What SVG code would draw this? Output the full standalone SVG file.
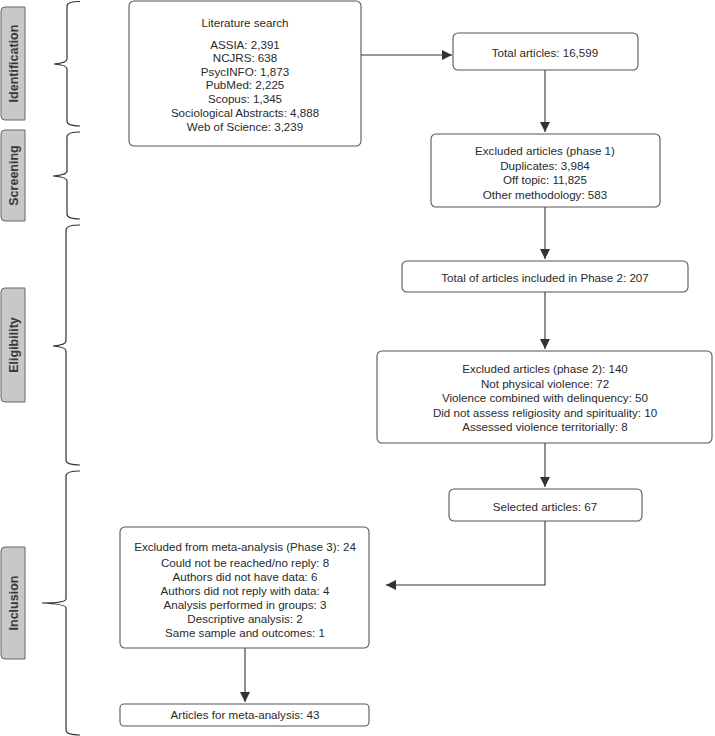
<svg xmlns="http://www.w3.org/2000/svg" width="715" height="736" viewBox="0 0 715 736">
<defs>
<marker id="ah" viewBox="0 0 10 10" refX="10" refY="5" markerWidth="10" markerHeight="10" markerUnits="userSpaceOnUse" orient="auto">
<path d="M0,0 L10,5 L0,10 z" fill="#333"/>
</marker>
<style>
.box{fill:#fff;stroke:#555;stroke-width:1.1}
.tab{fill:#c8c8c8;stroke:#666;stroke-width:1}
.t{font-family:"Liberation Sans",Arial,sans-serif;font-size:11.6px;fill:#2a2a2a;text-anchor:middle}
.tt{font-family:"Liberation Sans",Arial,sans-serif;font-size:12.5px;font-weight:bold;fill:#3a3a3a;text-anchor:middle}
.br{fill:none;stroke:#333;stroke-width:1.2}
.c{fill:none;stroke:#333;stroke-width:1.1}
</style>
</defs>
<rect width="715" height="736" fill="#fff"/>
<g id="stages">
<g id="tab-identification"><path class="tab" d="M25,7 L5,7 Q1,7 1,11 L1,116 Q1,120 5,120 L25,120 Z"/><text class="tt" transform="translate(17.5,63.5) rotate(-90)">Identification</text></g>
<g id="tab-screening"><path class="tab" d="M25,130 L5,130 Q1,130 1,134 L1,217 Q1,221 5,221 L25,221 Z"/><text class="tt" transform="translate(17.5,175.5) rotate(-90)">Screening</text></g>
<g id="tab-eligibility"><path class="tab" d="M25,288 L5,288 Q1,288 1,292 L1,398 Q1,402 5,402 L25,402 Z"/><text class="tt" transform="translate(17.5,345) rotate(-90)">Eligibility</text></g>
<g id="tab-inclusion"><path class="tab" d="M25,547 L5,547 Q1,547 1,551 L1,655 Q1,659 5,659 L25,659 Z"/><text class="tt" transform="translate(17.5,603) rotate(-90)">Inclusion</text></g>
</g>
<g id="braces">
<path class="br" d="M80,1.5 Q67,1.5 67,6 L67,59 Q67,63 54,64 Q67,65 67,69 L67,121 Q67,126 80,126"/>
<path class="br" d="M80,132 Q67,132 67,137 L67,171 Q67,175 53,176 Q67,177 67,181 L67,214 Q67,219 80,219"/>
<path class="br" d="M80,225 Q66,225 66,230 L66,341 Q66,345 53,346 Q66,347 66,351 L66,460 Q66,465 80,465"/>
<path class="br" d="M80,471 Q66,471 66,476 L66,599 Q66,603 42,603 Q66,604 66,608 L66,730 Q66,735 80,735"/>
</g>
<g id="connectors">
<path class="c" d="M361,55 L452,55" marker-end="url(#ah)"/>
<path class="c" d="M545,70 L545,132" marker-end="url(#ah)"/>
<path class="c" d="M545,207 L545,259" marker-end="url(#ah)"/>
<path class="c" d="M545,292 L545,349" marker-end="url(#ah)"/>
<path class="c" d="M545,443 L545,487" marker-end="url(#ah)"/>
<path class="c" d="M545,521 L545,585 L386,585" marker-end="url(#ah)"/>
<path class="c" d="M245,648 L245,702" marker-end="url(#ah)"/>
</g>
<g id="n-literature">
<rect class="box" x="129" y="1" width="232" height="145" rx="5"/>
<text class="t" x="245" y="27">Literature search</text>
<text class="t" x="245" y="49">ASSIA: 2,391</text>
<text class="t" x="245" y="62">NCJRS: 638</text>
<text class="t" x="245" y="76">PsycINFO: 1,873</text>
<text class="t" x="245" y="89">PubMed: 2,225</text>
<text class="t" x="245" y="103">Scopus: 1,345</text>
<text class="t" x="245" y="117">Sociological Abstracts: 4,888</text>
<text class="t" x="245" y="131">Web of Science: 3,239</text>
</g>
<g id="n-total">
<rect class="box" x="453" y="33" width="185" height="37" rx="5"/>
<text class="t" x="545" y="57">Total articles: 16,599</text>
</g>
<g id="n-excl1">
<rect class="box" x="431" y="134" width="229" height="73" rx="5"/>
<text class="t" x="545" y="155">Excluded articles (phase 1)</text>
<text class="t" x="545" y="170">Duplicates: 3,984</text>
<text class="t" x="545" y="184">Off topic: 11,825</text>
<text class="t" x="545" y="199">Other methodology: 583</text>
</g>
<g id="n-phase2">
<rect class="box" x="402" y="261" width="286" height="31" rx="5"/>
<text class="t" x="545" y="282">Total of articles included in Phase 2: 207</text>
</g>
<g id="n-excl2">
<rect class="box" x="377" y="351" width="335" height="92" rx="5"/>
<text class="t" x="545" y="373">Excluded articles (phase 2): 140</text>
<text class="t" x="545" y="388">Not physical violence: 72</text>
<text class="t" x="545" y="402">Violence combined with delinquency: 50</text>
<text class="t" x="545" y="417">Did not assess religiosity and spirituality: 10</text>
<text class="t" x="545" y="431">Assessed violence territorially: 8</text>
</g>
<g id="n-selected">
<rect class="box" x="449" y="489" width="193" height="32" rx="5"/>
<text class="t" x="545" y="511">Selected articles: 67</text>
</g>
<g id="n-excl3">
<rect class="box" x="120" y="527" width="249" height="121" rx="5"/>
<text class="t" x="245" y="551">Excluded from meta-analysis (Phase 3): 24</text>
<text class="t" x="245" y="567">Could not be reached/no reply: 8</text>
<text class="t" x="245" y="581">Authors did not have data: 6</text>
<text class="t" x="245" y="595">Authors did not reply with data: 4</text>
<text class="t" x="245" y="609">Analysis performed in groups: 3</text>
<text class="t" x="245" y="623">Descriptive analysis: 2</text>
<text class="t" x="245" y="637">Same sample and outcomes: 1</text>
</g>
<g id="n-meta">
<rect class="box" x="120" y="704" width="249" height="22" rx="4"/>
<text class="t" x="245" y="719">Articles for meta-analysis: 43</text>
</g>
</svg>
